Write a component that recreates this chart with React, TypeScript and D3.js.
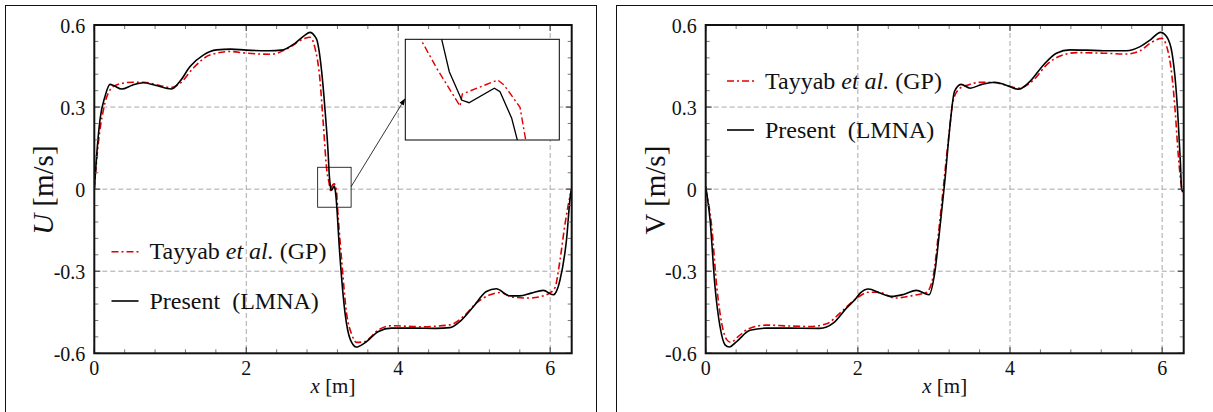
import React from "react";
import * as d3 from "d3";

const TWO_PI = Math.PI * 2;

// ---- data ----
const uPresent: [number, number][] = [
  [0, 0], [0.03, 0.12], [0.075, 0.254], [0.14, 0.338], [0.206, 0.383], [0.26, 0.378], [0.36, 0.366],
  [0.5, 0.38], [0.645, 0.389], [0.8, 0.38], [1.018, 0.366], [1.13, 0.395], [1.26, 0.448], [1.434, 0.49],
  [1.61, 0.509], [1.8, 0.512], [2.0, 0.508], [2.3, 0.506], [2.46, 0.508], [2.64, 0.533], [2.76, 0.56],
  [2.84, 0.573], [2.9, 0.56], [2.93, 0.545], [2.99, 0.436], [3.04, 0.278], [3.08, 0.119], [3.0905, 0.06],
  [3.1, 0.0276], [3.1155, -0.0007], [3.1246, -0.0034], [3.1563, 0.011], [3.1634, 0.0076], [3.178, -0.019],
  [3.185, -0.0407], [3.23, -0.234], [3.3, -0.453], [3.37, -0.55], [3.45, -0.577], [3.56, -0.562],
  [3.74, -0.52], [3.91, -0.508], [4.2, -0.508], [4.5, -0.509], [4.68, -0.506], [4.81, -0.484],
  [4.99, -0.429], [5.16, -0.374], [5.29, -0.364], [5.47, -0.39], [5.6, -0.39], [5.75, -0.38],
  [5.91, -0.37], [6.04, -0.386], [6.13, -0.331], [6.215, -0.185], [6.27, -0.015], [TWO_PI, 0.0],
];

const uTayyab: [number, number][] = [
  [0, 0], [0.053, 0.168], [0.12, 0.29], [0.207, 0.363], [0.29, 0.381], [0.51, 0.391], [0.645, 0.391],
  [0.85, 0.38], [1.0, 0.371], [1.13, 0.387], [1.3, 0.442], [1.52, 0.49], [1.79, 0.503], [2.0, 0.497],
  [2.33, 0.493], [2.55, 0.515], [2.77, 0.551], [2.84, 0.555], [2.9, 0.521], [2.97, 0.399], [3.01, 0.253],
  [3.0643, 0.06], [3.0843, 0.031], [3.1134, -0.0067], [3.1163, 0.0053], [3.1605, 0.0193], [3.1684, 0.0143],
  [3.1884, -0.008], [3.1955, -0.0407], [3.255, -0.258], [3.32, -0.453], [3.39, -0.532], [3.45, -0.56],
  [3.56, -0.557], [3.74, -0.514], [3.91, -0.499], [4.3, -0.503], [4.68, -0.496], [4.86, -0.465],
  [5.03, -0.416], [5.21, -0.386], [5.34, -0.378], [5.51, -0.395], [5.73, -0.398], [5.95, -0.386],
  [6.06, -0.362], [6.13, -0.258], [6.19, -0.137], [6.26, -0.027], [TWO_PI, 0.0],
];

const vPresent: [number, number][] = [
  [0, 0.01], [0.057, -0.112], [0.122, -0.356], [0.188, -0.502], [0.254, -0.569], [0.31, -0.577],
  [0.407, -0.557], [0.582, -0.516], [0.8, -0.508], [1.07, -0.508], [1.5, -0.509], [1.68, -0.489],
  [1.85, -0.435], [1.96, -0.404], [2.03, -0.38], [2.14, -0.365], [2.29, -0.38], [2.445, -0.392],
  [2.6, -0.385], [2.77, -0.37], [2.935, -0.386], [3.01, -0.307], [3.08, -0.137], [3.145, 0.034],
  [3.21, 0.229], [3.27, 0.357], [3.356, 0.383], [3.475, 0.369], [3.63, 0.383], [3.8, 0.391],
  [3.95, 0.38], [4.11, 0.365], [4.26, 0.393], [4.44, 0.454], [4.61, 0.497], [4.79, 0.509], [5.0, 0.508],
  [5.23, 0.506], [5.53, 0.506], [5.71, 0.521], [5.84, 0.545], [5.98, 0.573], [6.06, 0.557], [6.13, 0.497],
  [6.18, 0.375], [6.21, 0.253], [6.24, 0.095], [6.257, -0.003], [TWO_PI, -0.01],
];

const vTayyab: [number, number][] = [
  [0, 0.0], [0.079, -0.137], [0.145, -0.356], [0.21, -0.49], [0.276, -0.55], [0.33, -0.56], [0.43, -0.538],
  [0.582, -0.508], [0.8, -0.497], [1.07, -0.5], [1.37, -0.502], [1.59, -0.492], [1.765, -0.453],
  [1.96, -0.404], [2.14, -0.377], [2.27, -0.377], [2.49, -0.398], [2.7, -0.39], [2.84, -0.382],
  [2.905, -0.377], [2.99, -0.319], [3.06, -0.161], [3.125, 0.0095], [3.19, 0.18], [3.255, 0.326],
  [3.343, 0.369], [3.45, 0.381], [3.63, 0.391], [3.8, 0.389], [3.95, 0.38], [4.11, 0.369], [4.31, 0.399],
  [4.48, 0.454], [4.66, 0.487], [4.88, 0.499], [5.23, 0.497], [5.53, 0.494], [5.71, 0.506], [5.84, 0.533],
  [5.995, 0.551], [6.06, 0.521], [6.13, 0.411], [6.17, 0.29], [6.21, 0.131], [6.257, 0.004], [TWO_PI, -0.02],
];

const xTicks = [0, 2, 4, 6];
const xTickLabels = ["0", "2", "4", "6"];
const yTicks = [-0.6, -0.3, 0, 0.3, 0.6];
const yTickLabels = ["-0.6", "-0.3", "0", "0.3", "0.6"];
const xMinor = d3.range(1, 16).filter((i) => i % 5 !== 0).map((i) => i * 0.4);
const yMinor = d3.range(-10, 11).filter((i) => i % 5 !== 0).map((i) => i * 0.06);
const xGrid = [2, 4, 6];
const yGrid = [-0.3, 0, 0.3];

const legendLabels = { tayyab: ["Tayyab ", "et al.", " (GP)"], present: "Present  (LMNA)" };

// zoomed region of the U inset (data coordinates)
const zoomBox = { x0: 2.94, x1: 3.38, y0: -0.066, y1: 0.08 };
const insetDomainX: [number, number] = [3.045, 3.2375];
const insetDomainY: [number, number] = [-0.0407, 0.06];

const FONT = "'Liberation Serif', 'DejaVu Serif', serif";
const RED = "#e10000";
const DASH = "7,3,2,3";

type PanelProps = {
  id: string;
  left: number;
  right: number;
  top: number;
  bottom: number;
  present: [number, number][];
  tayyab: [number, number][];
  yVar: string;
  yItalic: boolean;
  legendX: number;
  legendY1: number;
  legendY2: number;
  inset?: boolean;
};

function Panel(p: PanelProps) {
  const x = d3.scaleLinear().domain([0, TWO_PI]).range([p.left, p.right]);
  const y = d3.scaleLinear().domain([-0.6, 0.6]).range([p.bottom, p.top]);
  const line = d3
    .line<[number, number]>()
    .x((d) => x(d[0]))
    .y((d) => y(d[1]))
    .curve(d3.curveMonotoneX);
  const clipId = `clip-${p.id}`;
  const majLen = 6;
  const minLen = 4;

  let insetEls: React.ReactNode = null;
  if (p.inset) {
    const ix0 = 405.3, ix1 = 559.3, iy0 = 39.3, iy1 = 140;
    const ixs = d3.scaleLinear().domain(insetDomainX).range([ix0, ix1]);
    const iys = d3.scaleLinear().domain(insetDomainY).range([iy1, iy0]);
    const iline = d3
      .line<[number, number]>()
      .x((d) => ixs(d[0]))
      .y((d) => iys(d[1]));
    const bx0 = x(zoomBox.x0), bx1 = x(zoomBox.x1), by0 = y(zoomBox.y1), by1 = y(zoomBox.y0);
    const ax0 = bx1, ay0 = (by0 + by1) / 2 - 0.6;
    const ax1 = ix0, ay1 = iy0 + (iy1 - iy0) * 0.585;
    const ang = Math.atan2(ay1 - ay0, ax1 - ax0);
    const ah = 7, aw = 2.5;
    const hx = ax1 - ah * Math.cos(ang), hy = ay1 - ah * Math.sin(ang);
    const head = `M${ax1},${ay1} L${hx + aw * Math.sin(ang)},${hy - aw * Math.cos(ang)} L${hx - aw * Math.sin(ang)},${hy + aw * Math.cos(ang)} Z`;
    insetEls = (
      <g>
        <defs>
          <clipPath id="clip-inset">
            <rect x={ix0} y={iy0} width={ix1 - ix0} height={iy1 - iy0} />
          </clipPath>
        </defs>
        <rect x={bx0} y={by0} width={bx1 - bx0} height={by1 - by0} fill="none" stroke="#000" strokeWidth={0.8} />
        <line x1={ax0} y1={ay0} x2={hx} y2={hy} stroke="#000" strokeWidth={0.8} />
        <path d={head} fill="#000" />
        <rect x={ix0} y={iy0} width={ix1 - ix0} height={iy1 - iy0} fill="#fff" />
        <g clipPath="url(#clip-inset)">
          <path d={iline(p.tayyab) || ""} fill="none" stroke={RED} strokeWidth={1.4} strokeDasharray={DASH} />
          <path d={iline(p.present) || ""} fill="none" stroke="#000" strokeWidth={1.3} />
        </g>
        <rect x={ix0} y={iy0} width={ix1 - ix0} height={iy1 - iy0} fill="none" stroke="#000" strokeWidth={1} />
      </g>
    );
  }

  const cx = (p.left + p.right) / 2;
  const cy = (p.top + p.bottom) / 2;

  return (
    <g fontFamily={FONT}>
      <defs>
        <clipPath id={clipId}>
          <rect x={p.left} y={p.top} width={p.right - p.left} height={p.bottom - p.top} />
        </clipPath>
      </defs>
      {/* grid */}
      {xGrid.map((v) => (
        <line key={`gx${v}`} x1={x(v)} x2={x(v)} y1={p.top} y2={p.bottom} stroke="#a8a8a8" strokeWidth={1} strokeDasharray="5,3" />
      ))}
      {yGrid.map((v) => (
        <line key={`gy${v}`} x1={p.left} x2={p.right} y1={y(v)} y2={y(v)} stroke="#a8a8a8" strokeWidth={1} strokeDasharray="5,3" />
      ))}
      {/* curves */}
      <g clipPath={`url(#${clipId})`}>
        <path d={line(p.tayyab) || ""} fill="none" stroke={RED} strokeWidth={1.6} strokeDasharray={DASH} />
        <path d={line(p.present) || ""} fill="none" stroke="#000" strokeWidth={1.6} />
      </g>
      {/* ticks */}
      {xMinor.map((v) => (
        <g key={`xm${v}`} stroke="#777" strokeWidth={1}>
          <line x1={x(v)} x2={x(v)} y1={p.bottom} y2={p.bottom - minLen} />
          <line x1={x(v)} x2={x(v)} y1={p.top} y2={p.top + minLen} />
        </g>
      ))}
      {yMinor.map((v) => (
        <g key={`ym${v}`} stroke="#777" strokeWidth={1}>
          <line x1={p.left} x2={p.left + minLen} y1={y(v)} y2={y(v)} />
          <line x1={p.right} x2={p.right - minLen} y1={y(v)} y2={y(v)} />
        </g>
      ))}
      {xTicks.map((v) => (
        <g key={`xM${v}`} stroke="#444" strokeWidth={1.2}>
          <line x1={x(v)} x2={x(v)} y1={p.bottom} y2={p.bottom - majLen} />
          <line x1={x(v)} x2={x(v)} y1={p.top} y2={p.top + majLen} />
        </g>
      ))}
      {yTicks.map((v) => (
        <g key={`yM${v}`} stroke="#444" strokeWidth={1.2}>
          <line x1={p.left} x2={p.left + majLen} y1={y(v)} y2={y(v)} />
          <line x1={p.right} x2={p.right - majLen} y1={y(v)} y2={y(v)} />
        </g>
      ))}
      {/* frame */}
      <rect x={p.left} y={p.top} width={p.right - p.left} height={p.bottom - p.top} fill="none" stroke="#111" strokeWidth={2} />
      {/* tick labels */}
      {xTicks.map((v, i) => (
        <text key={`xl${v}`} x={x(v)} y={p.bottom + 21.5} fontSize={20} textAnchor="middle" fill="#111">
          {xTickLabels[i]}
        </text>
      ))}
      {yTicks.map((v, i) => (
        <text key={`yl${v}`} x={p.left - 9} y={y(v) + 7.5} fontSize={20} textAnchor="end" fill="#111">
          {yTickLabels[i]}
        </text>
      ))}
      {/* axis titles */}
      <text x={cx} y={p.bottom + 40} fontSize={21} textAnchor="middle" fill="#111">
        <tspan fontStyle="italic">x</tspan>
        <tspan> [m]</tspan>
      </text>
      <text transform={`translate(${p.left - 41},${cy + 1}) rotate(-90)`} fontSize={29} textAnchor="middle" fill="#111">
        <tspan fontStyle={p.yItalic ? "italic" : "normal"}>{p.yVar}</tspan>
        <tspan> [m/s]</tspan>
      </text>
      {/* legend */}
      <line x1={p.legendX} x2={p.legendX + 27} y1={p.legendY1} y2={p.legendY1} stroke={RED} strokeWidth={1.6} strokeDasharray={DASH} />
      <text x={p.legendX + 38} y={p.legendY1 + 7.5} fontSize={24} fill="#111">
        <tspan>{legendLabels.tayyab[0]}</tspan>
        <tspan fontStyle="italic">{legendLabels.tayyab[1]}</tspan>
        <tspan>{legendLabels.tayyab[2]}</tspan>
      </text>
      <line x1={p.legendX} x2={p.legendX + 27} y1={p.legendY2} y2={p.legendY2} stroke="#000" strokeWidth={1.6} />
      <text x={p.legendX + 38} y={p.legendY2 + 7.5} fontSize={24} fill="#111" style={{ whiteSpace: "pre" }}>
        {legendLabels.present}
      </text>
      {insetEls}
    </g>
  );
}

export default function App() {
  return (
    <div style={{ position: "absolute", left: 0, top: 0 }}>
      <svg width={1213} height={412} viewBox="0 0 1213 412" style={{ display: "block", background: "#fff" }}>
        <rect x={0} y={0} width={1213} height={412} fill="#fff" />
        <rect x={5.5} y={5.5} width={591} height={520} fill="none" stroke="#111" strokeWidth={1} />
        <rect x={616.5} y={5.5} width={700} height={520} fill="none" stroke="#111" strokeWidth={1} />
        <Panel
          id="u"
          left={94.3}
          right={571.7}
          top={25}
          bottom={353.3}
          present={uPresent}
          tayyab={uTayyab}
          yVar="U"
          yItalic={true}
          legendX={111.5}
          legendY1={251.7}
          legendY2={301}
          inset={true}
        />
        <Panel
          id="v"
          left={705.7}
          right={1183.7}
          top={25}
          bottom={353.3}
          present={vPresent}
          tayyab={vTayyab}
          yVar="V"
          yItalic={false}
          legendX={727}
          legendY1={81}
          legendY2={130}
        />
      </svg>
    </div>
  );
}
